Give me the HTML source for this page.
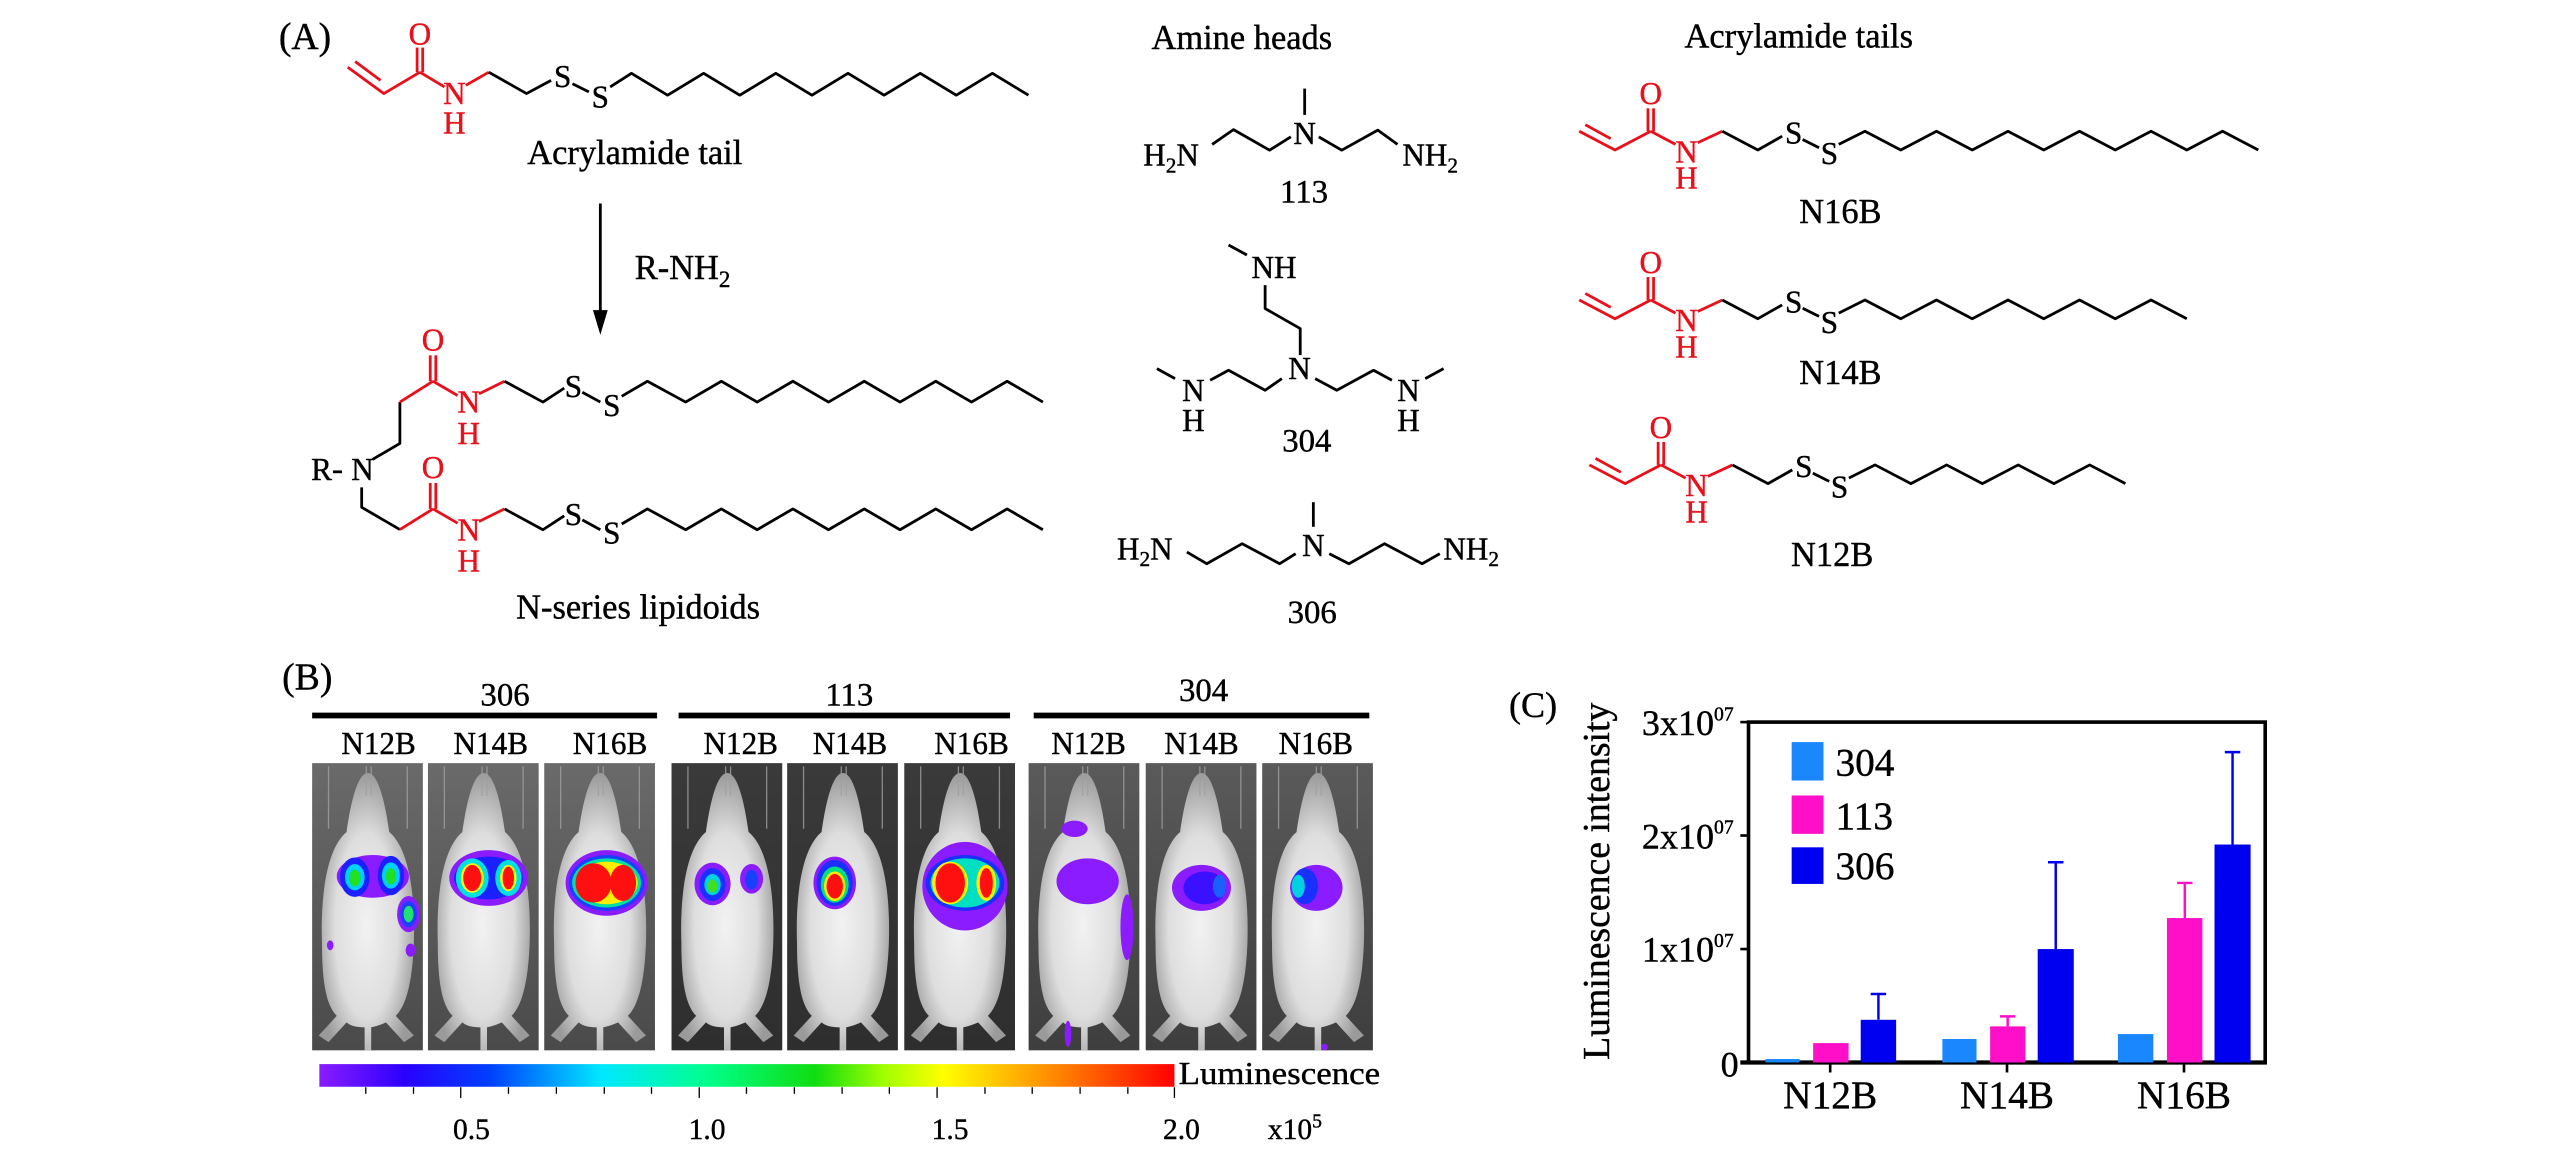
<!DOCTYPE html>
<html><head><meta charset="utf-8"><style>
html,body{margin:0;padding:0;background:#fff}
svg{display:block}
text{font-family:"Liberation Serif",serif;stroke:currentColor;stroke-width:0.25}
</style></head><body>
<svg width="2567" height="1157" viewBox="0 0 1565 705" preserveAspectRatio="none" xmlns="http://www.w3.org/2000/svg">
<defs>
<radialGradient id="mg" cx="0.5" cy="0.55" r="0.55">
<stop offset="0" stop-color="#f2f2f2"/><stop offset="0.6" stop-color="#dedede"/><stop offset="1" stop-color="#9a9a9a"/>
</radialGradient>
<linearGradient id="bgA" x1="0" x2="0" y1="0" y2="1"><stop offset="0" stop-color="#6a6a6a"/><stop offset="1" stop-color="#4a4a4a"/></linearGradient>
<linearGradient id="bgB" x1="0" x2="0" y1="0" y2="1"><stop offset="0" stop-color="#3a3a3a"/><stop offset="1" stop-color="#2e2e2e"/></linearGradient>
<linearGradient id="bgC" x1="0" x2="0" y1="0" y2="1"><stop offset="0" stop-color="#5a5a5a"/><stop offset="1" stop-color="#3e3e3e"/></linearGradient>
<linearGradient id="cb" x1="0" x2="1" y1="0" y2="0">
<stop offset="0" stop-color="#8a1cff"/><stop offset="0.1" stop-color="#2a00ff"/><stop offset="0.2" stop-color="#0040ff"/>
<stop offset="0.33" stop-color="#00e8ff"/><stop offset="0.45" stop-color="#00ff90"/><stop offset="0.58" stop-color="#10dd10"/>
<stop offset="0.66" stop-color="#a0ff00"/><stop offset="0.73" stop-color="#ffff00"/><stop offset="0.86" stop-color="#ff8800"/><stop offset="1" stop-color="#ff0000"/>
</linearGradient>
<g id="mouse">
<path d="M34,6 C41,6 45,28 47,42 C59,52 63,80 62,110 C61,135 57,148 51,154 L62,166 L56,170 L45,158 C41,160 36,161 36,161 L36,175 L32,175 L32,161 C27,161 23,160 21,158 L10,170 L4,166 L15,154 C9,148 6,135 6,110 C5,80 9,52 21,42 C23,28 27,6 34,6 Z" fill="url(#mg)"/>
<g stroke="#a0a0a0" stroke-width="0.8" opacity="0.8"><line x1="10" y1="2" x2="10" y2="40"/><line x1="58" y1="2" x2="58" y2="40"/><line x1="33" y1="2" x2="33" y2="20"/><line x1="36" y1="2" x2="36" y2="20"/></g>
</g>
</defs>

<!-- ===== Panel A ===== -->
<text x="170" y="30" font-size="23">(A)</text>

<g fill="none" stroke-width="1.7" stroke-linejoin="round">
<polyline stroke="#e8101a" points="212,41 234,57 256,44"/>
<line stroke="#e8101a" x1="216.5" y1="37.5" x2="232" y2="49"/>
<line stroke="#e8101a" x1="254.3" y1="44" x2="254.3" y2="29"/>
<line stroke="#e8101a" x1="257.7" y1="44" x2="257.7" y2="29"/>
<line stroke="#e8101a" x1="256" y1="44" x2="271" y2="53"/>
<line stroke="#e8101a" x1="284" y1="52" x2="298" y2="44"/>
<polyline stroke="#000" points="298,44 321,57 336,49"/>
<line stroke="#000" x1="349" y1="51" x2="359" y2="56"/>
<polyline stroke="#000" points="372,53 385,44.7 407,58 429,44.7 451,58 473,44.7 495,58 517,44.7 539,58 561,44.7 583,58 605,44.7 627,58"/>
</g>
<g font-size="19" text-anchor="middle">
<text x="256" y="27" fill="#e8101a" color="#e8101a">O</text>
<text x="277" y="63.5" fill="#e8101a" color="#e8101a">N</text>
<text x="277" y="81.5" fill="#e8101a" color="#e8101a">H</text>
<text x="343" y="53">S</text>
<text x="366" y="65.5">S</text>
</g>
<text x="387" y="100" font-size="21" text-anchor="middle">Acrylamide tail</text>

<line x1="366" y1="124" x2="366" y2="194" stroke="#000" stroke-width="1.7"/>
<polygon points="361.5,189 366,204 370.5,189" fill="#000"/>
<text x="387" y="170" font-size="21">R-NH<tspan font-size="14" dy="5">2</tspan></text>

<g fill="none" stroke-width="1.7" stroke-linejoin="round">
<polyline stroke="#000" points="227,280 243.8,270.2 243.8,245"/>
<line stroke="#e8101a" x1="243.8" y1="245" x2="264" y2="232.3"/>
<line stroke="#e8101a" x1="262.3" y1="232.3" x2="262.3" y2="216.5"/>
<line stroke="#e8101a" x1="265.7" y1="232.3" x2="265.7" y2="216.5"/>
<line stroke="#e8101a" x1="264" y1="232.3" x2="279" y2="241"/>
<line stroke="#e8101a" x1="292" y1="240" x2="307.6" y2="232.3"/>
<polyline stroke="#000" points="307.6,232.3 331,245 344,236.5"/>
<line stroke="#000" x1="355" y1="239" x2="366" y2="245"/>
<polyline stroke="#000" points="379,241.5 394.7,232.3 418,245 439.8,232.3 461.6,245 483.4,232.3 505.1,245 526.9,232.3 548.7,245 570.5,232.3 592.3,245 614,232.3 635.8,245"/>
<polyline stroke="#000" points="220.5,297 220.5,309.1 243.8,322.7"/>
<line stroke="#e8101a" x1="243.8" y1="322.7" x2="264" y2="310.1"/>
<line stroke="#e8101a" x1="262.3" y1="310.1" x2="262.3" y2="294.3"/>
<line stroke="#e8101a" x1="265.7" y1="310.1" x2="265.7" y2="294.3"/>
<line stroke="#e8101a" x1="264" y1="310.1" x2="279" y2="318.8"/>
<line stroke="#e8101a" x1="292" y1="317.8" x2="307.6" y2="310.1"/>
<polyline stroke="#000" points="307.6,310.1 331,322.8 344,314.3"/>
<line stroke="#000" x1="355" y1="316.8" x2="366" y2="322.8"/>
<polyline stroke="#000" points="379,319.3 394.7,310.1 418,322.8 439.8,310.1 461.6,322.8 483.4,310.1 505.1,322.8 526.9,310.1 548.7,322.8 570.5,310.1 592.3,322.8 614,310.1 635.8,322.8"/>
<line stroke="#000" x1="203" y1="287.5" x2="208.5" y2="287.5"/>
</g>
<g font-size="19" text-anchor="middle">
<text x="196" y="292.5">R</text>
<text x="221" y="292.5">N</text>
<text x="264" y="213.5" fill="#e8101a" color="#e8101a">O</text>
<text x="285.8" y="251.5" fill="#e8101a" color="#e8101a">N</text>
<text x="285.8" y="270.5" fill="#e8101a" color="#e8101a">H</text>
<text x="349.6" y="242">S</text>
<text x="373" y="253.5">S</text>
<text x="264" y="291.3" fill="#e8101a" color="#e8101a">O</text>
<text x="285.8" y="329.3" fill="#e8101a" color="#e8101a">N</text>
<text x="285.8" y="348.3" fill="#e8101a" color="#e8101a">H</text>
<text x="349.6" y="319.8">S</text>
<text x="373" y="331.3">S</text>
</g>
<text x="389" y="377" font-size="21" text-anchor="middle">N-series lipidoids</text>

<!-- Amine heads -->
<text x="702" y="30" font-size="21">Amine heads</text>
<g fill="none" stroke="#000" stroke-width="1.7" stroke-linejoin="round">
<polyline points="739,88 752,79 774,91.5 787,83.4"/>
<line x1="795.4" y1="54" x2="795.4" y2="70"/>
<polyline points="804,83.4 818,91.5 840,79.3 852,88"/>
<line x1="749" y1="149.3" x2="760.2" y2="155.4"/>
<polyline points="771.3,173.7 771.3,188 792.7,200.2 792.7,216.4"/>
<polyline points="781.5,230.7 771.3,237.8 749,225.6 737.8,231.7"/>
<line x1="716.4" y1="230.7" x2="705.3" y2="224.6"/>
<polyline points="801.8,230.7 815,237.8 837.4,225.6 848.6,231.7"/>
<line x1="868.9" y1="230.7" x2="880.1" y2="224.6"/>
<line x1="800.7" y1="306" x2="800.7" y2="321"/>
<polyline points="723.6,336.4 735.7,343.5 757.3,331.3 780.2,343.5 789.9,337.4"/>
<polyline points="810.4,337.4 822.4,343.5 844.1,331.3 867,343.5 877.8,337.4"/>
</g>
<g font-size="19">
<text x="697" y="101">H<tspan font-size="13" dy="4">2</tspan><tspan dy="-4">N</tspan></text>
<text x="795.4" y="87.8" text-anchor="middle">N</text>
<text x="855" y="101">NH<tspan font-size="13" dy="4">2</tspan></text>
<text x="763" y="169.5">NH</text>
<text x="792.3" y="231" text-anchor="middle">N</text>
<text x="727.6" y="244.3" text-anchor="middle">N</text>
<text x="727.6" y="262.5" text-anchor="middle">H</text>
<text x="858.7" y="244.3" text-anchor="middle">N</text>
<text x="858.7" y="262.5" text-anchor="middle">H</text>
<text x="681" y="341">H<tspan font-size="13" dy="4">2</tspan><tspan dy="-4">N</tspan></text>
<text x="800.7" y="338.8" text-anchor="middle">N</text>
<text x="880" y="341">NH<tspan font-size="13" dy="4">2</tspan></text>
</g>
<g font-size="20" text-anchor="middle">
<text x="795" y="123.5">113</text>
<text x="796.7" y="275">304</text>
<text x="800" y="379.5">306</text>
</g>

<!-- Acrylamide tails -->
<text x="1027" y="29" font-size="21">Acrylamide tails</text>
<g id="tail16">
<g fill="none" stroke-width="1.7" stroke-linejoin="round">
<polyline stroke="#e8101a" points="962.8,80 984.6,91.4 1006.4,80"/>
<line stroke="#e8101a" x1="966.5" y1="76" x2="982" y2="84.5"/>
<line stroke="#e8101a" x1="1004.7" y1="80" x2="1004.7" y2="66"/>
<line stroke="#e8101a" x1="1008.1" y1="80" x2="1008.1" y2="66"/>
<line stroke="#e8101a" x1="1006.4" y1="80" x2="1021.5" y2="88"/>
<line stroke="#e8101a" x1="1035" y1="87" x2="1050" y2="80"/>
<polyline stroke="#000" points="1050,80 1071.7,91.4 1086.5,83"/>
<line stroke="#000" x1="1099" y1="85" x2="1109" y2="90"/>
</g>
<g font-size="19" text-anchor="middle">
<text x="1006.4" y="63.5" fill="#e8101a" color="#e8101a">O</text>
<text x="1028.2" y="99" fill="#e8101a" color="#e8101a">N</text>
<text x="1028.2" y="115" fill="#e8101a" color="#e8101a">H</text>
<text x="1093.5" y="87.5">S</text>
<text x="1115.3" y="100">S</text>
</g>
</g>
<polyline fill="none" stroke="#000" stroke-width="1.7" stroke-linejoin="round" points="1121,88 1137,80 1158.8,91.4 1180.6,80 1202.4,91.4 1224.2,80 1246,91.4 1267.8,80 1289.6,91.4 1311.4,80 1333.2,91.4 1355,80 1376.8,91.4"/>
<text x="1122" y="136" font-size="21" text-anchor="middle">N16B</text>

<use href="#tail16" transform="translate(0,102.8)"/>
<polyline fill="none" stroke="#000" stroke-width="1.7" stroke-linejoin="round" points="1121,190.8 1137,182.8 1158.8,194.2 1180.6,182.8 1202.4,194.2 1224.2,182.8 1246,194.2 1267.8,182.8 1289.6,194.2 1311.4,182.8 1333.2,194.2"/>
<text x="1122" y="234" font-size="21" text-anchor="middle">N14B</text>

<use href="#tail16" transform="translate(6.2,203.3)"/>
<polyline fill="none" stroke="#000" stroke-width="1.7" stroke-linejoin="round" points="1127.2,291.3 1143.2,283.3 1165,294.7 1186.8,283.3 1208.6,294.7 1230.4,283.3 1252.2,294.7 1274,283.3 1295.8,294.7"/>
<text x="1117" y="345" font-size="21" text-anchor="middle">N12B</text>

<!-- ===== Panel B ===== -->
<text x="172" y="420" font-size="23">(B)</text>
<g font-size="20" text-anchor="middle">
<text x="307.9" y="430">306</text>
<text x="517.8" y="430">113</text>
<text x="733.8" y="427">304</text>
</g>
<g stroke="#000" stroke-width="3.5">
<line x1="190.3" y1="436" x2="400.6" y2="436"/>
<line x1="413.7" y1="436" x2="615.8" y2="436"/>
<line x1="630.2" y1="436" x2="834.8" y2="436"/>
</g>
<g font-size="19" text-anchor="middle">
<text x="230.8" y="459.5">N12B</text><text x="299.2" y="459.5">N14B</text><text x="371.9" y="459.5">N16B</text>
<text x="451.6" y="459.5">N12B</text><text x="518.2" y="459.5">N14B</text><text x="592.3" y="459.5">N16B</text>
<text x="663.7" y="459.5">N12B</text><text x="732.5" y="459.5">N14B</text><text x="802.2" y="459.5">N16B</text>
</g>

<g transform="translate(190.3,465)"><rect width="67.5" height="175" fill="url(#bgA)"/><use href="#mouse"/>
<ellipse cx="37" cy="69" rx="22" ry="13" fill="#8a1cff"/>
<ellipse cx="26" cy="69.5" rx="9" ry="12" fill="#1a20ff"/><ellipse cx="26" cy="69.5" rx="6" ry="8" fill="#00d0ff"/><ellipse cx="26" cy="70" rx="3.5" ry="5" fill="#20e020"/>
<ellipse cx="48" cy="68.5" rx="8" ry="12" fill="#1a20ff"/><ellipse cx="48" cy="68.5" rx="5.5" ry="8" fill="#00d0ff"/><ellipse cx="48" cy="69" rx="3" ry="5" fill="#20e020"/>
<ellipse cx="58.8" cy="92" rx="7" ry="11" fill="#8a1cff"/><ellipse cx="58.8" cy="92" rx="5" ry="8" fill="#1a40ff"/><ellipse cx="58.8" cy="92" rx="3" ry="5" fill="#20e070"/>
<ellipse cx="11" cy="111" rx="2" ry="3" fill="#8a1cff"/><ellipse cx="60" cy="114" rx="3" ry="4" fill="#8a1cff"/></g>

<g transform="translate(260.9,465)"><rect width="67.5" height="175" fill="url(#bgA)"/><use href="#mouse"/>
<ellipse cx="37" cy="70" rx="24" ry="17" fill="#8a1cff"/><ellipse cx="37" cy="70" rx="21" ry="13" fill="#1a20ff"/>
<ellipse cx="27" cy="70" rx="10" ry="12" fill="#00e0e0"/><ellipse cx="27" cy="70" rx="7" ry="9" fill="#ffff00"/><ellipse cx="27" cy="70" rx="5.5" ry="8" fill="#ff1010"/>
<ellipse cx="49" cy="70" rx="8" ry="11" fill="#00e0e0"/><ellipse cx="49" cy="70" rx="5" ry="8" fill="#ffff00"/><ellipse cx="49" cy="70" rx="3.5" ry="7" fill="#ff1010"/></g>

<g transform="translate(331.8,465)"><rect width="67.5" height="175" fill="url(#bgA)"/><use href="#mouse"/>
<ellipse cx="38" cy="73" rx="25" ry="20" fill="#8a1cff"/><ellipse cx="38" cy="73" rx="23" ry="17" fill="#1a40ff"/><ellipse cx="38" cy="73" rx="21" ry="15" fill="#00e0a0"/>
<ellipse cx="38" cy="73" rx="19" ry="13" fill="#ffee00"/><ellipse cx="30" cy="73" rx="11" ry="12" fill="#ff1010"/><ellipse cx="48" cy="73" rx="8" ry="11" fill="#ff1010"/></g>

<g transform="translate(409.4,465)"><rect width="67.5" height="175" fill="url(#bgB)"/><use href="#mouse"/>
<ellipse cx="25" cy="73.6" rx="11" ry="13" fill="#8a1cff"/><ellipse cx="25" cy="74" rx="8" ry="10" fill="#1a30ff"/><ellipse cx="25" cy="74" rx="5" ry="6.5" fill="#00d0e0"/><ellipse cx="25" cy="75" rx="3" ry="4" fill="#40e020"/>
<ellipse cx="48.8" cy="70.5" rx="7" ry="9" fill="#8a1cff"/><ellipse cx="48.8" cy="71" rx="4" ry="6" fill="#1a40ff"/></g>

<g transform="translate(479.9,465)"><rect width="67.5" height="175" fill="url(#bgB)"/><use href="#mouse"/>
<ellipse cx="29" cy="73" rx="13" ry="16" fill="#8a1cff"/><ellipse cx="29" cy="73" rx="11" ry="14" fill="#1a30ff"/><ellipse cx="29" cy="74" rx="8.5" ry="11" fill="#00e080"/><ellipse cx="29" cy="75" rx="6.5" ry="9" fill="#ffee00"/><ellipse cx="29" cy="75" rx="5" ry="7.5" fill="#ff1010"/></g>

<g transform="translate(551.3,465)"><rect width="67.5" height="175" fill="url(#bgB)"/><use href="#mouse"/>
<ellipse cx="37" cy="75" rx="26" ry="27" fill="#8a1cff"/><ellipse cx="37" cy="73" rx="24" ry="17" fill="#1a30ff"/><ellipse cx="37" cy="73" rx="21" ry="15" fill="#00e0c0"/>
<ellipse cx="28" cy="73" rx="11" ry="13" fill="#ffee00"/><ellipse cx="28" cy="73" rx="9" ry="12" fill="#ff1010"/><ellipse cx="50" cy="73" rx="6" ry="11" fill="#ffee00"/><ellipse cx="50" cy="73" rx="4" ry="9" fill="#ff1010"/></g>

<g transform="translate(627.1,465)"><rect width="67.5" height="175" fill="url(#bgC)"/><use href="#mouse"/>
<ellipse cx="28" cy="40" rx="8" ry="5" fill="#8a1cff"/><ellipse cx="36" cy="72" rx="19" ry="14" fill="#8a1cff"/><ellipse cx="60" cy="100" rx="4" ry="20" fill="#8a1cff"/><ellipse cx="24" cy="165" rx="2" ry="8" fill="#8a1cff"/></g>

<g transform="translate(698.5,465)"><rect width="67.5" height="175" fill="url(#bgC)"/><use href="#mouse"/>
<ellipse cx="34" cy="76" rx="18" ry="14" fill="#8a1cff"/><ellipse cx="36" cy="76" rx="13" ry="10" fill="#3a10ff"/><ellipse cx="45" cy="75" rx="4" ry="7" fill="#1a60ff"/></g>

<g transform="translate(769.5,465)"><rect width="67.5" height="175" fill="url(#bgC)"/><use href="#mouse"/>
<ellipse cx="33" cy="76" rx="16" ry="14" fill="#8a1cff"/><ellipse cx="26" cy="75" rx="8" ry="11" fill="#1a30ff"/><ellipse cx="22" cy="75" rx="4" ry="7" fill="#00d0e0"/><ellipse cx="38" cy="173" rx="2" ry="2" fill="#8a1cff"/></g>

<rect x="194.7" y="648.4" width="521.3" height="13.8" fill="url(#cb)"/>
<g stroke="#000" stroke-width="0.8">
<line x1="223" y1="662.5" x2="223" y2="666.5"/><line x1="252.1" y1="662.5" x2="252.1" y2="666.5"/><line x1="280.9" y1="662.5" x2="280.9" y2="669"/>
<line x1="310" y1="662.5" x2="310" y2="666.5"/><line x1="339.2" y1="662.5" x2="339.2" y2="666.5"/><line x1="368.4" y1="662.5" x2="368.4" y2="666.5"/>
<line x1="397.2" y1="662.5" x2="397.2" y2="666.5"/><line x1="426.3" y1="662.5" x2="426.3" y2="669"/><line x1="455.1" y1="662.5" x2="455.1" y2="666.5"/>
<line x1="484.3" y1="662.5" x2="484.3" y2="666.5"/><line x1="513.4" y1="662.5" x2="513.4" y2="666.5"/><line x1="542.2" y1="662.5" x2="542.2" y2="666.5"/>
<line x1="571.3" y1="662.5" x2="571.3" y2="669"/><line x1="600.5" y1="662.5" x2="600.5" y2="666.5"/><line x1="629.3" y1="662.5" x2="629.3" y2="666.5"/>
<line x1="658.5" y1="662.5" x2="658.5" y2="666.5"/><line x1="687.6" y1="662.5" x2="687.6" y2="666.5"/><line x1="716" y1="662.5" x2="716" y2="669"/>
</g>
<text x="718.6" y="660.5" font-size="19" textLength="122.8" lengthAdjust="spacingAndGlyphs">Luminescence</text>
<g font-size="18" text-anchor="middle">
<text x="287.4" y="694">0.5</text><text x="431.1" y="694">1.0</text><text x="579.2" y="694">1.5</text><text x="720.3" y="694">2.0</text>
</g>
<text x="773" y="694" font-size="18">x10<tspan font-size="12" dy="-7">5</tspan></text>

<!-- ===== Panel C ===== -->
<text x="920" y="437" font-size="22">(C)</text>
<text transform="translate(981,537) rotate(-90)" font-size="23" text-anchor="middle">Luminescence intensity</text>
<rect x="1066" y="440" width="315" height="207.4" fill="none" stroke="#000" stroke-width="2.2"/>
<line x1="1061" y1="647.4" x2="1382" y2="647.4" stroke="#000" stroke-width="2.6"/>
<g stroke="#000" stroke-width="1.6">
<line x1="1061" y1="440" x2="1066" y2="440"/><line x1="1061" y1="509.1" x2="1066" y2="509.1"/><line x1="1061" y1="578.3" x2="1066" y2="578.3"/>
<line x1="1115.8" y1="647.4" x2="1115.8" y2="653.5"/><line x1="1223.6" y1="647.4" x2="1223.6" y2="653.5"/><line x1="1331.5" y1="647.4" x2="1331.5" y2="653.5"/>
</g>
<g font-size="22" text-anchor="end">
<text x="1045" y="448">3x10</text><text x="1045" y="517">2x10</text><text x="1045" y="586">1x10</text><text x="1060" y="656">0</text>
</g>
<g font-size="12">
<text x="1045" y="439">07</text><text x="1045" y="508">07</text><text x="1045" y="577">07</text>
</g>
<g fill="#1a86ff"><rect x="1076.4" y="645.3" width="20.7" height="2.1"/><rect x="1184.2" y="633.1" width="20.8" height="14.3"/><rect x="1291.2" y="630.1" width="21.6" height="17.3"/></g>
<g fill="#ff10c8"><rect x="1105.4" y="635.6" width="21.6" height="11.8"/><rect x="1213.3" y="625.4" width="21.5" height="22"/><rect x="1321.1" y="559.4" width="21.6" height="88"/></g>
<g fill="#0000f0"><rect x="1134.4" y="621.4" width="21.6" height="26"/><rect x="1242.3" y="578.3" width="22" height="69.1"/><rect x="1350.1" y="514.6" width="22" height="132.8"/></g>
<g stroke-width="1.5" fill="none">
<path stroke="#0000f0" d="M1145.2,621.4V605.7M1140.5,605.7h9.4"/>
<path stroke="#0000f0" d="M1253.3,578.3V525.4M1248.6,525.4h9.4"/>
<path stroke="#0000f0" d="M1361.1,514.6V458.3M1356.4,458.3h9.4"/>
<path stroke="#ff10c8" d="M1224,625.4V619.3M1219.3,619.3h9.4"/>
<path stroke="#ff10c8" d="M1332,559.4V538M1327.3,538h9.4"/>
</g>
<rect x="1092.3" y="452.2" width="19.4" height="23.4" fill="#1a86ff"/>
<rect x="1092.3" y="484.7" width="19.4" height="23.4" fill="#ff10c8"/>
<rect x="1092.3" y="516.3" width="19.4" height="22.3" fill="#0000f0"/>
<g font-size="24">
<text x="1119" y="472.5">304</text><text x="1119" y="505">113</text><text x="1119" y="535.6">306</text>
</g>
<g font-size="24" text-anchor="middle">
<text x="1115.8" y="675">N12B</text><text x="1223.6" y="675">N14B</text><text x="1331.5" y="675">N16B</text>
</g>
</svg>
</body></html>
